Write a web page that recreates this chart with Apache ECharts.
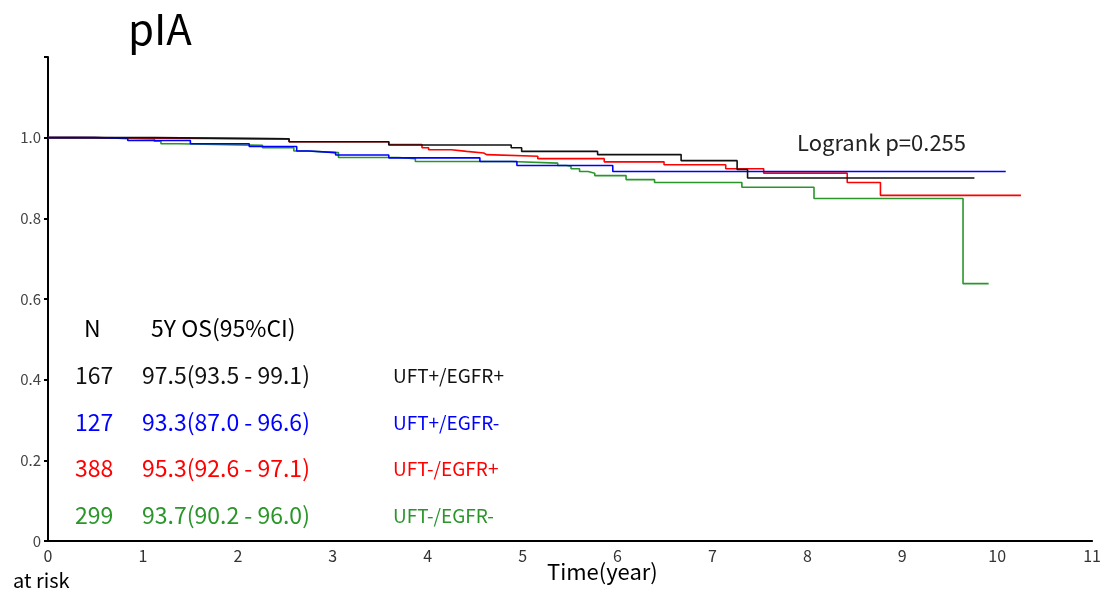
<!DOCTYPE html>
<html>
<head>
<meta charset="utf-8">
<script src="https://cdn.jsdelivr.net/npm/echarts@6/dist/echarts.min.js"></script>
<style>
  html, body { margin: 0; padding: 0; background: #fff; }
  #chart { width: 1104px; height: 596px; }
</style>
</head>
<body>
<div id="chart"></div>
<script>
// Kaplan-Meier steps: [time(year), survival]
const groups = ['UFT+/EGFR+', 'UFT+/EGFR-', 'UFT-/EGFR+', 'UFT-/EGFR-'];
const colors = ['#111111', '#0000ff', '#ff0000', '#2a962a'];
const nCounts = ['167', '127', '388', '299'];
const osText = ['97.5(93.5 - 99.1)', '93.3(87.0 - 96.6)', '95.3(92.6 - 97.1)', '93.7(90.2 - 96.0)'];

const kmBlack = [[0, 1], [1.12, 0.997], [2.54, 0.99], [3.59, 0.982], [4.88, 0.975], [4.99, 0.966],
  [5.79, 0.958], [6.67, 0.943], [7.26, 0.921], [7.37, 0.9], [9.76, 0.9]];
const kmBlue = [[0, 1], [0.49, 0.998], [0.84, 0.993], [1.5, 0.985], [2.12, 0.978], [2.62, 0.967],
  [2.75, 0.963], [3.03, 0.957], [3.59, 0.95], [4.55, 0.941], [4.94, 0.931], [5.95, 0.916], [10.09, 0.916]];
const kmRed = [[0, 1], [0.3, 0.997], [2.54, 0.99], [3.59, 0.983], [3.94, 0.975], [4.01, 0.97],
  [4.25, 0.966], [4.41, 0.962], [4.59, 0.958], [4.62, 0.954], [5.16, 0.948], [5.86, 0.94],
  [6.49, 0.933], [7.14, 0.923], [7.54, 0.912], [8.42, 0.889], [8.77, 0.857], [10.25, 0.857]];
const kmGreen = [[0, 1], [0.49, 0.997], [1.12, 0.991], [1.19, 0.985], [1.38, 0.981], [2.26, 0.975],
  [2.59, 0.967], [2.73, 0.963], [3.06, 0.951], [3.69, 0.948], [3.87, 0.941], [4.88, 0.937],
  [5.37, 0.931], [5.46, 0.929], [5.51, 0.923], [5.6, 0.916], [5.69, 0.912], [5.76, 0.906],
  [6.09, 0.896], [6.39, 0.889], [7.31, 0.877], [8.07, 0.849], [9.64, 0.638], [9.91, 0.638]];
const curves = [kmBlack, kmBlue, kmRed, kmGreen];

const FONT = '"Noto Sans CJK JP", "Noto Sans", sans-serif';
const chart = echarts.init(document.getElementById('chart'));

// table rows (N / 5Y OS / group), one y per row
const rowY = [378, 425, 471, 518];
const tableText = [];
groups.forEach((g, i) => {
    tableText.push({ type: 'text', left: 75, top: rowY[i] - 14, style: { text: nCounts[i], fill: colors[i], font: '23px ' + FONT } });
    tableText.push({ type: 'text', left: 142, top: rowY[i] - 14, style: { text: osText[i], fill: colors[i], font: '23px ' + FONT } });
    tableText.push({ type: 'text', left: 393, top: rowY[i] - 12, style: { text: g, fill: colors[i], font: '19px ' + FONT } });
});

chart.setOption({
    animation: false,
    grid: { left: 48, right: 10, top: 57, bottom: 55 },
    xAxis: {
        type: 'value', min: 0, max: 11, interval: 1,
        axisLine: { lineStyle: { color: '#000', width: 2 } },
        axisTick: { show: false }, splitLine: { show: false },
        axisLabel: { color: '#333', fontSize: 16, margin: 7, fontFamily: FONT }
    },
    yAxis: {
        type: 'value', min: 0, max: 1.2, interval: 0.2,
        axisLine: { show: true, lineStyle: { color: '#000', width: 2 } },
        axisTick: { show: true, length: 4, lineStyle: { color: '#000', width: 2 } },
        splitLine: { show: false },
        axisLabel: {
            color: '#444', fontSize: 15, margin: 7, fontFamily: FONT,
            formatter: v => v === 0 ? '0' : (v > 1.1 ? '' : v.toFixed(1))
        }
    },
    series: curves.map((d, i) => ({
        type: 'line', step: 'end', data: d, showSymbol: false, name: groups[i],
        lineStyle: { color: colors[i], width: 1.6 }, itemStyle: { color: colors[i] }, z: 10 - i
    })),
    graphic: [
        { type: 'text', left: 128, top: 8, style: { text: 'pIA', fill: '#000', font: '42px ' + FONT } },
        { type: 'text', left: 797, top: 132, style: { text: 'Logrank p=0.255', fill: '#222', font: '22px ' + FONT } },
        { type: 'text', left: 84, top: 317, style: { text: 'N', fill: '#000', font: '23px ' + FONT } },
        { type: 'text', left: 151, top: 317, style: { text: '5Y OS(95%CI)', fill: '#000', font: '23px ' + FONT } },
        { type: 'text', left: 547, top: 561, style: { text: 'Time(year)', fill: '#000', font: '22px ' + FONT } },
        { type: 'text', left: 13, top: 570, style: { text: 'at risk', fill: '#000', font: '20px ' + FONT } },
        ...tableText
    ]
});
</script>
</body>
</html>
